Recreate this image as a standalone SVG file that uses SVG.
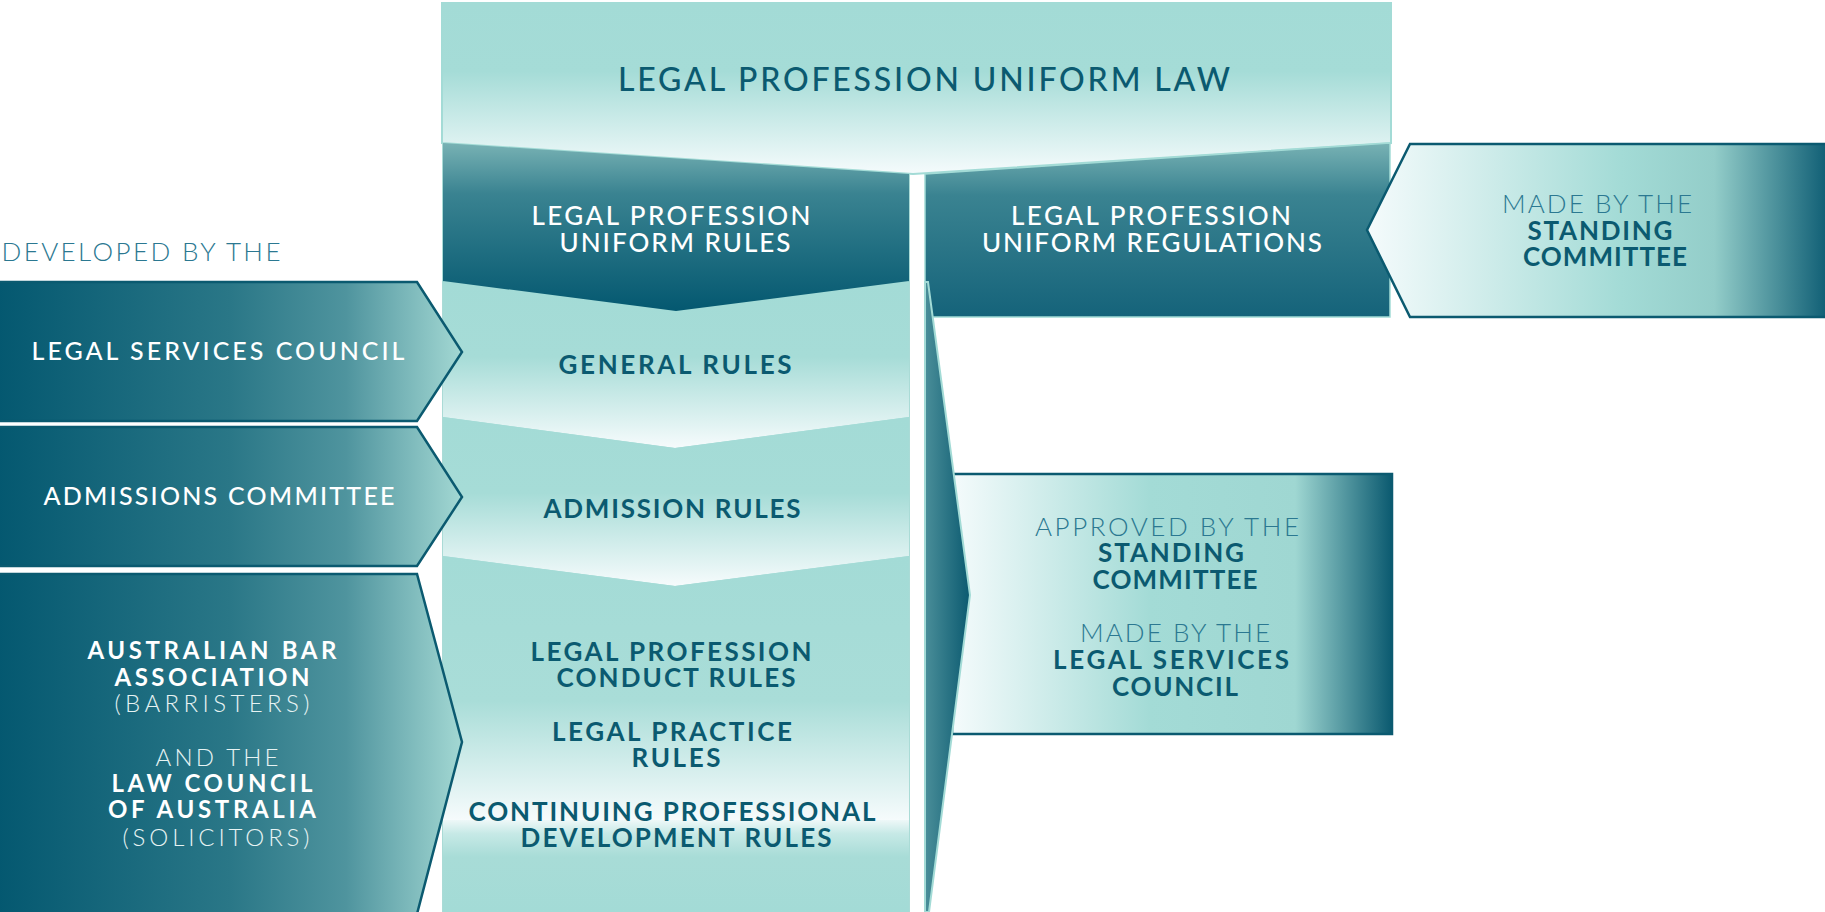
<svg xmlns="http://www.w3.org/2000/svg" width="1825" height="912" viewBox="0 0 1825 912">
<defs>
<linearGradient id="gTop" x1="0" y1="0" x2="0" y2="1"><stop offset="0" stop-color="#a3dbd6"/><stop offset="0.4" stop-color="#a5dcd7"/><stop offset="1" stop-color="#f5fbfc"/></linearGradient>
<linearGradient id="gDark" x1="0" y1="0" x2="0" y2="1"><stop offset="0" stop-color="#78b2b4"/><stop offset="0.3" stop-color="#3a8391"/><stop offset="1" stop-color="#045870"/></linearGradient>
<linearGradient id="gDarkR" x1="0" y1="0" x2="0" y2="1"><stop offset="0" stop-color="#78b2b4"/><stop offset="0.3" stop-color="#3a8391"/><stop offset="1" stop-color="#15637a"/></linearGradient>
<linearGradient id="gSec" x1="0" y1="0" x2="0" y2="1"><stop offset="0" stop-color="#a3dbd6"/><stop offset="0.45" stop-color="#a6dcd7"/><stop offset="1" stop-color="#f6fbfc"/></linearGradient>
<linearGradient id="gSec3" x1="0" y1="0" x2="0" y2="1"><stop offset="0" stop-color="#a3dbd6"/><stop offset="0.55" stop-color="#a9ddd8"/><stop offset="1" stop-color="#f6fbfc"/></linearGradient>
<linearGradient id="gSec4" x1="0" y1="0" x2="0" y2="1"><stop offset="0" stop-color="#eef8f8"/><stop offset="0.15" stop-color="#c6e9e6"/><stop offset="0.4" stop-color="#a8dcd7"/><stop offset="1" stop-color="#a3dbd6"/></linearGradient>
<linearGradient id="gLeft" x1="0" y1="0" x2="1" y2="0"><stop offset="0" stop-color="#045870"/><stop offset="0.5" stop-color="#2a7787"/><stop offset="0.75" stop-color="#4f949e"/><stop offset="1" stop-color="#a3d8d3"/></linearGradient>
<linearGradient id="gRight" x1="0" y1="0" x2="1" y2="0"><stop offset="0" stop-color="#f5fbfc"/><stop offset="0.55" stop-color="#a3dbd6"/><stop offset="0.75" stop-color="#93cdc9"/><stop offset="1" stop-color="#0d5c73"/></linearGradient>
<linearGradient id="gMid" x1="0" y1="0" x2="1" y2="0"><stop offset="0" stop-color="#f5fbfc"/><stop offset="0.45" stop-color="#a3dbd6"/><stop offset="0.78" stop-color="#9fd7d2"/><stop offset="1" stop-color="#0b5a70"/></linearGradient>
<linearGradient id="gTri" x1="0" y1="0" x2="1" y2="0"><stop offset="0" stop-color="#4a8e99"/><stop offset="1" stop-color="#0b5a70"/></linearGradient>
<style>
text{font-family:Lato,"Liberation Sans",sans-serif;text-anchor:middle}
.title{font-size:32px;fill:#0b5a70;font-weight:500}
.wh{font-size:26px;fill:#ffffff;font-weight:500}
.whb{font-size:24px;fill:#ffffff;font-weight:700}
.whl{font-size:24px;fill:#e6f3f3;font-weight:300}
.tb{font-size:26px;fill:#0b5a70;font-weight:700}
.tl{font-size:26px;fill:#2b7891;font-weight:300}
.lbl{font-size:25px;fill:#ffffff;font-weight:500}
.edge{stroke:#0b5a70;stroke-width:2.5}
.ptr{fill:url(#gTri);stroke:#a3dbd6;stroke-width:2}
</style>
</defs>
<rect width="1825" height="912" fill="#ffffff"/>

<g id="column">
<rect x="443" y="143" width="466" height="769" fill="#a3dbd6" stroke="#8fcfc9" stroke-width="1.5"/>
<polygon points="443,282 909,282 909,417 675,448 443,417" fill="url(#gSec)"/>
<polygon points="443,417 675,448 909,417 909,556 675,586 443,556" fill="url(#gSec)"/>
<polygon points="443,556 675,586 909,556 909,820 443,820" fill="url(#gSec3)"/>
<rect x="443" y="820" width="466" height="92" fill="url(#gSec4)"/>
</g>

<g id="top-law">
<polygon points="442,3 1391,3 1391,143 913,174 442,143" fill="url(#gTop)" stroke="#a3dbd6" stroke-width="2"/>
<text class="title" x="924" y="91" textLength="612" lengthAdjust="spacing">LEGAL PROFESSION UNIFORM LAW</text>
</g>

<g id="rules-dark">
<polygon points="443,143 909,174 909,281 676,311 443,281" fill="url(#gDark)"/>
<text class="wh" x="671" y="225" textLength="279" lengthAdjust="spacing">LEGAL PROFESSION</text>
<text class="wh" x="675" y="252" textLength="231" lengthAdjust="spacing">UNIFORM RULES</text>
</g>

<g id="regs-dark">
<polygon points="925,174 1390,143 1390,317 925,317" fill="url(#gDarkR)" stroke="#a3dbd6" stroke-width="1.5"/>
<text class="wh" x="1151" y="225" textLength="280" lengthAdjust="spacing">LEGAL PROFESSION</text>
<text class="wh" x="1152" y="252" textLength="340" lengthAdjust="spacing">UNIFORM REGULATIONS</text>
</g>

<g id="developed-label">
<text class="tl" x="141" y="261" textLength="279" lengthAdjust="spacing">DEVELOPED BY THE</text>
</g>

<g id="lsc">
<polygon class="edge" points="-2,282 417,282 462,352 417,421 -2,421" fill="url(#gLeft)"/>
<text class="lbl" x="218" y="360" textLength="373" lengthAdjust="spacing">LEGAL SERVICES COUNCIL</text>
</g>

<g id="admissions">
<polygon class="edge" points="-2,427 417,427 462,497 417,566 -2,566" fill="url(#gLeft)"/>
<text class="lbl" x="219" y="505" textLength="351" lengthAdjust="spacing">ADMISSIONS COMMITTEE</text>
</g>

<g id="bar-law">
<polygon class="edge" points="-2,574 417,574 462,742 417,914 -2,914" fill="url(#gLeft)"/>
<text class="whb" x="212" y="659" textLength="249" lengthAdjust="spacing">AUSTRALIAN BAR</text>
<text class="whb" x="212" y="686" textLength="195" lengthAdjust="spacing">ASSOCIATION</text>
<text class="whl" x="212" y="712" textLength="195" lengthAdjust="spacing">(BARRISTERS)</text>
<text class="whl" x="217" y="766" textLength="123" lengthAdjust="spacing">AND THE</text>
<text class="whb" x="212" y="792" textLength="201" lengthAdjust="spacing">LAW COUNCIL</text>
<text class="whb" x="212" y="818" textLength="208" lengthAdjust="spacing">OF AUSTRALIA</text>
<text class="whl" x="216" y="846" textLength="187" lengthAdjust="spacing">(SOLICITORS)</text>
</g>

<g id="rules-text">
<text class="tb" x="675" y="374" textLength="233" lengthAdjust="spacing">GENERAL RULES</text>
<text class="tb" x="672" y="518" textLength="257" lengthAdjust="spacing">ADMISSION RULES</text>
<text class="tb" x="671" y="661" textLength="281" lengthAdjust="spacing">LEGAL PROFESSION</text>
<text class="tb" x="676" y="687" textLength="239" lengthAdjust="spacing">CONDUCT RULES</text>
<text class="tb" x="672" y="741" textLength="240" lengthAdjust="spacing">LEGAL PRACTICE</text>
<text class="tb" x="676" y="767" textLength="89" lengthAdjust="spacing">RULES</text>
<text class="tb" x="672" y="821" textLength="407" lengthAdjust="spacing">CONTINUING PROFESSIONAL</text>
<text class="tb" x="676" y="847" textLength="311" lengthAdjust="spacing">DEVELOPMENT RULES</text>
</g>

<g id="standing-made">
<polygon class="edge" points="1830,144 1410,144 1367,230 1410,317 1830,317" fill="url(#gRight)"/>
<text class="tl" x="1597" y="213" textLength="190" lengthAdjust="spacing">MADE BY THE</text>
<text class="tb" x="1600" y="240" textLength="145" lengthAdjust="spacing">STANDING</text>
<text class="tb" x="1605" y="266" textLength="164" lengthAdjust="spacing">COMMITTEE</text>
</g>

<g id="approved">
<rect class="edge" x="952" y="474" width="440" height="260" fill="url(#gMid)"/>
<text class="tl" x="1167" y="536" textLength="264" lengthAdjust="spacing">APPROVED BY THE</text>
<text class="tb" x="1171" y="562" textLength="146" lengthAdjust="spacing">STANDING</text>
<text class="tb" x="1175" y="589" textLength="165" lengthAdjust="spacing">COMMITTEE</text>
<text class="tl" x="1175" y="642" textLength="190" lengthAdjust="spacing">MADE BY THE</text>
<text class="tb" x="1171" y="669" textLength="236" lengthAdjust="spacing">LEGAL SERVICES</text>
<text class="tb" x="1175" y="696" textLength="126" lengthAdjust="spacing">COUNCIL</text>
</g>

<g id="connectors">
<polygon class="ptr" points="925,282 928,282 970,595 929,912 925,912"/>
</g>
</svg>
